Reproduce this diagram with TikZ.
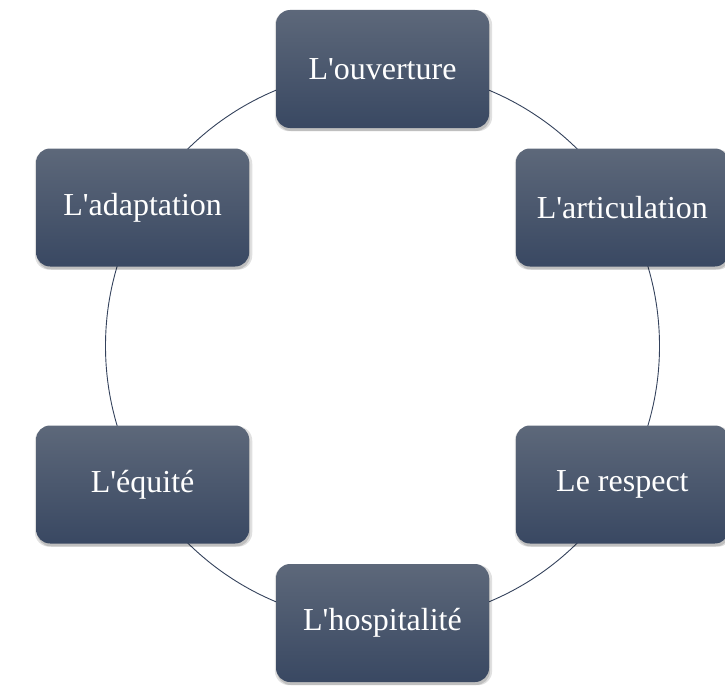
\documentclass[tikz,border=0pt]{standalone}
\usepackage{fontspec}
\setmainfont{Liberation Serif}
\usetikzlibrary{shadows, backgrounds}
\definecolor{boxtop}{RGB}{93,104,122}
\definecolor{boxbottom}{RGB}{57,72,98}
\definecolor{ringline}{RGB}{52,66,92}

\tikzset{
  valuebox/.style={rounded corners=14pt, minimum width=213pt, minimum height=118pt,
    inner sep=0pt, top color=boxtop, bottom color=boxbottom, text=white,
    font=\fontsize{32}{37}\selectfont,
    general shadow={fill=black, opacity=0.12, shadow xshift=1pt, shadow yshift=-2pt, shadow scale=1.02},
    general shadow={fill=black, opacity=0.15, shadow xshift=1pt, shadow yshift=-3pt}},
  ring/.style={draw=ringline, line width=0.9pt}
}

\begin{document}
\begin{tikzpicture}[x=1pt, y=-1pt]
  \useasboundingbox (0,0) rectangle (725,685);
  \coordinate (centre) at (382.5,346);

  % the six values around the ring
  \node[valuebox] (ouverture)    at (382.5,69)    {L\textquotesingle ouverture};
  \node[valuebox] (articulation) at (622.4,207.5) {L\textquotesingle articulation};
  \node[valuebox] (respect)      at (622.4,484.5) {Le respect};
  \node[valuebox] (hospitalite)  at (382.5,623)   {L\textquotesingle hospitalité};
  \node[valuebox] (equite)       at (142.6,484.5) {L\textquotesingle équité};
  \node[valuebox] (adaptation)   at (142.6,207.5) {L\textquotesingle adaptation};

  \begin{scope}[on background layer]
    \draw[ring] (centre) circle[radius=277pt];
  \end{scope}
\end{tikzpicture}
\end{document}
